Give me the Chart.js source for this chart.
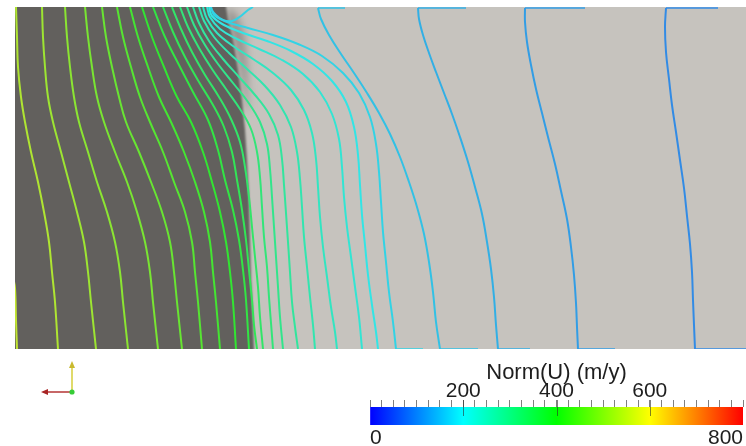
<!DOCTYPE html>
<html>
<head>
<meta charset="utf-8">
<title>Norm(U) contours</title>
<script src="https://cdn.jsdelivr.net/npm/chart.js@4.4.1/dist/chart.umd.min.js"></script>
<style>
  html, body { margin: 0; padding: 0; background: #ffffff; }
  #wrap { position: relative; width: 746px; height: 446px; overflow: hidden; }
  #wrap canvas { position: absolute; left: 0; top: 0; }
</style>
</head>
<body>
<div id="wrap">
  <canvas id="field" width="746" height="446"></canvas>
  <canvas id="legend" width="800" height="446"></canvas>
</div>
<script>
// Section extent in grid units: x across the section, y = depth below the upper surface
const domainX = [0, 731];
const domainY = [0, 342];

// Outline of the dark (inner) material block and the soft shaded band at its upper edge
const innerRegion = [[-20,-20],[211,-20],[211,0],[213,13],[218,33],[223,63],[227,93],[230,123],[232,153],
                     [234,193],[235,233],[236,273],[238,313],[239,342],[240,370],[-20,370]];
const innerShade = [[211,0],[221,7],[229,28],[232,63],[233,103],[231,103],[225,63],[219,33],[213,13]];

// Contour paths of Norm(U), one array of [x, depth] points per iso-line
const path560 = [[-2,270],[0,281],[1,313],[2,342]];
const path540 = [[1,0],[2,30],[3,60],[6,90],[10,115],[16,145],[23,175],[29,205],[34,235],[37,265],[40,295],[43,342]];
const path520 = [[27,0],[28,30],[30,60],[33,90],[38,115],[46,145],[54,175],[62,205],[69,235],[73,265],[76,295],[81,342]];
const path500 = [[50,0],[52,30],[55,60],[59,90],[64,115],[73,145],[82,175],[92,205],[100,235],[105,265],[108,295],[113,342]];
const path480 = [[70,0],[73,30],[77,60],[82,90],[89,115],[100,145],[112,175],[122,205],[130,235],[135,265],[138,295],[143,342]];
const path460 = [[87,0],[91,30],[97,60],[104,90],[111,115],[124,145],[136,175],[147,205],[155,235],[159,265],[162,295],[167,342]];
const path440 = [[102,0],[108,30],[116,60],[125,90],[135,115],[148,145],[159,175],[170,205],[177,235],[180,265],[183,295],[187,342]];
const path420 = [[115,0],[123,30],[133,60],[144,90],[156,115],[169,145],[180,175],[189,205],[195,235],[198,265],[201,295],[205,342]];
const path400 = [[127,0],[137,30],[149,60],[162,90],[176,115],[188,145],[197,175],[205,205],[211,235],[215,265],[218,295],[221,342]];
const path380 = [[138,0],[150,30],[164,58],[178,85],[193,113],[203,143],[210,173],[218,203],[224,233],[228,263],[231,293],[234,342]];
const path360 = [[148,0],[158,25],[170,50],[184,75],[198,98],[209,120],[217,145],[222,173],[227,203],[231,233],[234,263],[237,293],[239,318],[242,342]];
const path340 = [[157,0],[166,22],[177,45],[190,68],[204,90],[216,112],[225,135],[230,160],[234,190],[237,220],[240,250],[243,280],[245,310],[248,342]];
const path320 = [[165,0],[173,20],[184,41],[197,62],[211,82],[225,102],[236,122],[242,145],[245,170],[247,200],[249,230],[252,260],[254,290],[256,316],[258,342]];
const path300 = [[172,0],[179,18],[190,38],[203,57],[218,76],[233,95],[245,115],[252,137],[255,162],[257,190],[259,220],[261,250],[263,280],[265,310],[268,342]];
const path280 = [[178,0],[184,16],[194,34],[208,52],[224,70],[240,88],[254,107],[263,128],[267,152],[269,178],[271,206],[273,235],[275,265],[277,295],[280,320],[283,342]];
const path260 = [[184,0],[189,14],[199,30],[214,46],[232,62],[250,79],[265,98],[276,120],[282,145],[285,172],[287,200],[289,230],[292,260],[295,290],[298,318],[300,342]];
const path240 = [[188,0],[192,12],[202,26],[218,39],[238,52],[258,66],[276,83],[289,103],[297,126],[301,152],[303,180],[305,210],[308,240],[312,270],[316,300],[320,325],[322,342]];
const path220 = [[192,0],[195,10],[205,22],[222,32],[244,42],[267,53],[288,67],[305,85],[317,107],[324,132],[327,160],[329,190],[332,220],[336,250],[340,280],[344,310],[347,342]];
const path200 = [[194,0],[197,9],[209,18],[228,26],[252,34],[276,44],[298,57],[317,74],[331,95],[339,120],[343,148],[345,178],[347,208],[350,238],[353,268],[357,298],[361,325],[363,342]];
const path180 = [[196,0],[199,8],[212,15],[233,21],[258,28],[283,37],[307,49],[328,66],[344,86],[355,110],[361,137],[364,165],[366,195],[368,225],[371,255],[374,285],[378,315],[381,342]];
const path180loop = [[195,0],[200,7],[208,13],[217,14],[226,9],[233,3],[238,0]];
const path160 = [[303,1],[306,12],[314,28],[326,47],[339,66],[352,86],[364,106],[375,127],[385,150],[394,175],[402,200],[409,227],[414,255],[418,285],[421,315],[425,342]];
const path140 = [[403,1],[404,12],[408,28],[414,46],[421,65],[429,86],[437,107],[445,130],[453,155],[460,180],[467,207],[472,235],[476,262],[479,290],[481,318],[483,342]];
const path120 = [[510,1],[510,15],[512,35],[516,58],[521,82],[527,106],[533,130],[540,157],[546,184],[552,212],[556,240],[559,268],[561,296],[562,320],[563,342]];
const path100 = [[651,1],[650,20],[651,45],[654,72],[657,98],[661,125],[665,153],[669,181],[672,209],[675,237],[677,265],[678,293],[679,318],[680,342]];

// Parts of the same iso-lines that run along the upper and lower boundaries
const edge180 = [[381,342],[408,342]];
const edge160top = [[303,1],[330,1]];
const edge160 = [[425,342],[463,342]];
const edge140top = [[403,1],[451,1]];
const edge140 = [[483,342],[515,342]];
const edge120top = [[510,1],[570,1]];
const edge120 = [[563,342],[600,342]];
const edge100top = [[651,1],[703,1]];
const edge100 = [[680,342],[731,342]];

const contourLevels = [560, 540, 520, 500, 480, 460, 440, 420, 400, 380, 360, 340, 320, 300, 280,
                       260, 240, 220, 200, 180, 180, 160, 140, 120, 100];
const contourPaths = [path560, path540, path520, path500, path480, path460, path440, path420, path400, path380,
                      path360, path340, path320, path300, path280, path260, path240, path220, path200, path180,
                      path180loop, path160, path140, path120, path100];
const edgeLevels = [180, 160, 160, 140, 140, 120, 120, 100, 100];
const edgePaths = [edge180, edge160top, edge160, edge140top, edge140, edge120top, edge120, edge100top, edge100];

// Colour scale
const legendRange = [0, 800];
const legendMajorTicks = [200, 400, 600];
const legendEndLabels = [0, 800];
const legendTitle = 'Norm(U) (m/y)';

const innerColor = '#62605d';
const outerColor = '#c6c3be';
const textColor = '#1e1e1e';
const fontFamily = "'Liberation Sans', Arial, sans-serif";

// Blue -> cyan -> green -> yellow -> red (HSV hue sweep over the value range)
function rainbow(v) {
  const t = Math.min(1, Math.max(0, (v - legendRange[0]) / (legendRange[1] - legendRange[0])));
  const h = 240 * (1 - t);
  const f = n => {
    const k = (n + h / 60) % 6;
    return 255 * (1 - Math.max(0, Math.min(k, 4 - k, 1)));
  };
  return [f(5), f(3), f(1)];
}
function lineColor(v, alpha = 1) {
  const [r, g, b] = rainbow(v);
  return `rgba(${Math.round(r * 0.7 + 50)},${Math.round(g * 0.7 + 50)},${Math.round(b * 0.7 + 50)},${alpha})`;
}

// Background: outer material, inner dark block with its shaded upper edge
const materialPlugin = {
  id: 'material',
  beforeDatasetsDraw(chart) {
    const { ctx, chartArea: a, scales: { x, y } } = chart;
    const trace = pts => {
      ctx.beginPath();
      pts.forEach(([px, py], i) => {
        const X = x.getPixelForValue(px), Y = y.getPixelForValue(py);
        if (i === 0) ctx.moveTo(X, Y); else ctx.lineTo(X, Y);
      });
      ctx.closePath();
    };
    ctx.save();
    ctx.beginPath();
    ctx.rect(a.left, a.top, a.right - a.left, a.bottom - a.top);
    ctx.clip();
    ctx.fillStyle = outerColor;
    ctx.fillRect(a.left, a.top, a.right - a.left, a.bottom - a.top);
    ctx.filter = 'blur(4px)';
    ctx.fillStyle = 'rgba(98,96,93,0.55)';
    trace(innerShade);
    ctx.fill();
    ctx.filter = 'blur(1px)';
    ctx.fillStyle = innerColor;
    trace(innerRegion);
    ctx.fill();
    ctx.restore();
  }
};

// Orientation triad in the lower left corner
const triadPlugin = {
  id: 'triad',
  afterDraw(chart) {
    const ctx = chart.ctx;
    const cx = 72, cy = 392;
    ctx.save();
    ctx.lineWidth = 1.5;
    ctx.strokeStyle = '#d6ce3a';
    ctx.beginPath(); ctx.moveTo(cx, cy); ctx.lineTo(cx, cy - 25); ctx.stroke();
    ctx.fillStyle = '#c9b92e';
    ctx.beginPath(); ctx.moveTo(cx, cy - 31); ctx.lineTo(cx - 3, cy - 24); ctx.lineTo(cx + 3, cy - 24); ctx.closePath(); ctx.fill();
    ctx.strokeStyle = '#b53434';
    ctx.beginPath(); ctx.moveTo(cx, cy); ctx.lineTo(cx - 24, cy); ctx.stroke();
    ctx.fillStyle = '#a82424';
    ctx.beginPath(); ctx.moveTo(cx - 31, cy); ctx.lineTo(cx - 24, cy - 3); ctx.lineTo(cx - 24, cy + 3); ctx.closePath(); ctx.fill();
    ctx.fillStyle = '#36cc36';
    ctx.beginPath(); ctx.arc(cx, cy, 2.6, 0, Math.PI * 2); ctx.fill();
    ctx.restore();
  }
};

const toPoints = p => p.map(([x, y]) => ({ x, y }));
const fieldDatasets = [
  ...edgePaths.map((p, i) => ({
    data: toPoints(p), showLine: true, borderColor: lineColor(edgeLevels[i], 0.75),
    borderWidth: 2, pointRadius: 0, tension: 0, fill: false
  })),
  ...contourPaths.map((p, i) => ({
    data: toPoints(p), showLine: true, borderColor: lineColor(contourLevels[i]),
    borderWidth: 2, pointRadius: 0, tension: 0.4, fill: false
  }))
];

new Chart(document.getElementById('field'), {
  type: 'scatter',
  data: { datasets: fieldDatasets },
  options: {
    responsive: false,
    animation: false,
    events: [],
    layout: { padding: { left: 15, right: 0, top: 7, bottom: 97 } },
    scales: {
      x: { type: 'linear', display: false, min: domainX[0], max: domainX[1] },
      y: { type: 'linear', display: false, min: domainY[0], max: domainY[1], reverse: true }
    },
    plugins: { legend: { display: false }, tooltip: { enabled: false } }
  },
  plugins: [materialPlugin, triadPlugin]
});

// Colour bar
const majorTickPlugin = {
  id: 'majorTicks',
  afterDatasetsDraw(chart) {
    const { ctx, chartArea: a, scales: { x } } = chart;
    ctx.save();
    ctx.strokeStyle = 'rgba(45,45,45,0.6)';
    ctx.lineWidth = 1;
    legendMajorTicks.forEach(v => {
      const px = Math.round(x.getPixelForValue(v)) + 0.5;
      ctx.beginPath(); ctx.moveTo(px, a.top - 7); ctx.lineTo(px, a.top + 9); ctx.stroke();
    });
    ctx.restore();
  }
};

new Chart(document.getElementById('legend'), {
  type: 'bar',
  data: {
    labels: [''],
    datasets: [{
      data: [legendRange.slice()],
      backgroundColor: c => {
        const ch = c.chart;
        if (!ch.chartArea) return '#888888';
        const xs = ch.scales.x;
        const g = ch.ctx.createLinearGradient(xs.getPixelForValue(legendRange[0]), 0, xs.getPixelForValue(legendRange[1]), 0);
        for (let i = 0; i <= 16; i++) {
          const t = i / 16;
          const [r, gg, b] = rainbow(legendRange[0] + t * (legendRange[1] - legendRange[0]));
          g.addColorStop(t, `rgb(${Math.round(r)},${Math.round(gg)},${Math.round(b)})`);
        }
        return g;
      },
      borderWidth: 0,
      barPercentage: 1,
      categoryPercentage: 1
    }]
  },
  options: {
    indexAxis: 'y',
    responsive: false,
    animation: false,
    events: [],
    layout: { padding: { left: 370, right: 57, top: 352, bottom: 0 } },
    scales: {
      y: { display: false },
      x: {
        type: 'linear', position: 'top', min: legendRange[0], max: legendRange[1],
        afterFit: s => { s.height = 55; },
        border: { display: false },
        grid: { drawOnChartArea: false, tickLength: 7, color: '#7f7f7f', lineWidth: 1 },
        ticks: {
          stepSize: 25, autoSkip: false, maxRotation: 0, minRotation: 0, padding: -2,
          color: textColor, font: { family: fontFamily, size: 21, lineHeight: 1 },
          callback: v => legendMajorTicks.includes(v) ? String(v) : ''
        },
        title: {
          display: true, text: legendTitle, color: textColor,
          font: { family: fontFamily, size: 22, lineHeight: 1.2 },
          padding: { top: 8, bottom: 0 }
        }
      },
      x2: {
        type: 'linear', position: 'bottom', min: legendRange[0], max: legendRange[1],
        afterFit: s => { s.height = 21; },
        afterBuildTicks: s => { s.ticks = legendEndLabels.map(v => ({ value: v })); },
        border: { display: false },
        grid: { display: false },
        ticks: {
          align: 'inner', autoSkip: false, maxRotation: 0, padding: -5,
          color: textColor, font: { family: fontFamily, size: 21, lineHeight: 1 }
        }
      }
    },
    plugins: { legend: { display: false }, tooltip: { enabled: false } }
  },
  plugins: [majorTickPlugin]
});
</script>
</body>
</html>
